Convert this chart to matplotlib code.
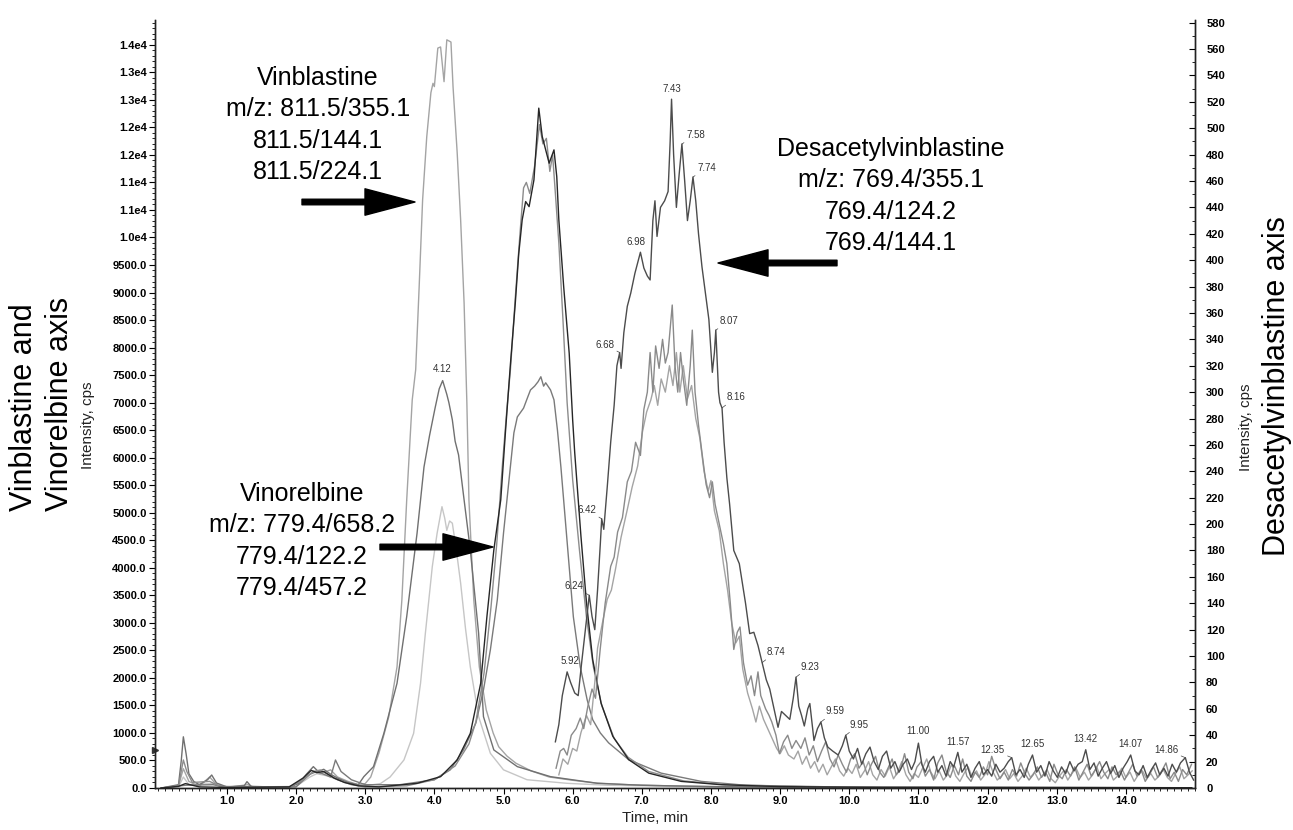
import numpy as np
import matplotlib
matplotlib.use("Agg")
import matplotlib.pyplot as plt
from matplotlib.ticker import MultipleLocator, FixedLocator, FuncFormatter

plt.rcParams['font.family'] = ['Liberation Sans', 'DejaVu Sans']

# ---- Vinblastine transitions (left axis, cps) ----
vbl_a_t = [0.05, 0.3, 0.37, 0.45, 0.6, 0.75, 0.85, 1.0, 1.3, 1.4, 1.9, 2.1, 2.25, 2.35, 2.5, 2.6, 2.75, 2.9, 3.0, 3.08,
           3.2, 3.34, 3.46, 3.53, 3.6, 3.68, 3.73, 3.78, 3.83, 3.89, 3.95, 3.98, 4.0, 4.05, 4.09, 4.14, 4.18, 4.24,
           4.27, 4.33, 4.38, 4.43, 4.47, 4.5, 4.57, 4.65, 4.75, 4.85, 4.93, 5.05, 5.18, 5.4, 5.66, 6.0, 6.34, 6.8,
           7.5, 8.5, 10.0, 12.0, 14.95]
vbl_a_i = [0, 40, 350, 120, 30, 200, 60, 10, 60, 10, 20, 150, 300, 260, 330, 200, 120, 60, 80, 200,
           640, 1290, 2200, 3415, 5230, 7050, 7600, 9100, 10680, 11830, 12630, 12800, 12740, 13440, 13460, 12830,
           13590, 13550, 12740, 11540, 10320, 8810, 7000, 5230, 3415, 2200, 1420, 1000, 750, 580, 450, 310, 200,
           140, 90, 60, 35, 20, 10, 5, 5]

vbl_b_t = [0.05, 0.3, 0.34, 0.37, 0.41, 0.45, 0.52, 0.6, 0.72, 0.78, 0.85, 1.0, 1.25, 1.29, 1.35, 1.9, 2.05, 2.15,
           2.25, 2.32, 2.4, 2.5, 2.6, 2.75, 2.9, 2.98, 3.12, 3.27, 3.46, 3.6, 3.75, 3.85, 3.93, 4.01, 4.07, 4.12,
           4.18, 4.21, 4.26, 4.3, 4.35, 4.43, 4.52, 4.64, 4.71, 4.86, 5.2, 5.68, 6.36, 7.0, 8.0, 10.0, 14.95]
vbl_b_i = [0, 60, 500, 930, 620, 260, 120, 60, 150, 236, 90, 20, 40, 115, 30, 10, 90, 250,
           388, 300, 340, 250, 180, 100, 60, 206, 388, 993, 1902, 3113, 4630, 5830, 6400, 6900, 7250, 7400,
           7150, 7000, 6686, 6300, 6050, 5233, 4324, 2810, 1297, 691, 388, 206, 85, 50, 25, 10, 5]

vbl_c_t = [0.05, 0.3, 0.37, 0.45, 0.8, 1.0, 2.0, 2.2, 2.3, 2.45, 2.6, 2.8, 3.0, 3.22, 3.36, 3.56, 3.7, 3.8, 3.87,
           3.97, 4.04, 4.11, 4.15, 4.18, 4.22, 4.26, 4.32, 4.38, 4.45, 4.52, 4.64, 4.81, 5.0, 5.34, 5.92, 6.5,
           7.5, 9.0, 14.95]
vbl_c_i = [0, 20, 200, 60, 80, 10, 30, 200, 260, 220, 150, 80, 40, 80, 200, 509, 993, 1902, 2810,
           4020, 4630, 5110, 4900, 4680, 4850, 4810, 4300, 3720, 2900, 2200, 1297, 630, 330, 150, 85, 50,
           30, 10, 5]

# ---- Vinorelbine transitions (left axis, cps) ----
vrl_1_t = [0.05, 0.3, 0.4, 0.6, 1.0, 1.9, 2.1, 2.22, 2.3, 2.4, 2.55, 2.7, 2.9, 3.2, 3.75, 4.09, 4.33, 4.52, 4.67,
           4.76, 4.86, 4.96, 5.03, 5.1, 5.17, 5.22, 5.27, 5.32, 5.37, 5.44, 5.51, 5.56, 5.61, 5.66, 5.73, 5.77,
           5.8, 5.87, 5.95, 6.0, 6.03, 6.12, 6.2, 6.29, 6.41, 6.58, 6.81, 7.1, 7.57, 8.15, 9.0, 10.5, 14.95]
vrl_1_i = [0, 30, 80, 20, 10, 20, 180, 320, 280, 300, 180, 100, 40, 20, 85, 206, 509, 993, 1902,
           3113, 4324, 5233, 6500, 7700, 8800, 9700, 10320, 10652, 10560, 11046, 12349, 11833, 11591, 11349,
           11591, 11106, 10320, 9108, 7897, 6686, 6085, 4570, 3365, 2330, 1545, 940, 515, 270, 120, 60, 25,
           10, 5]

vrl_2_t = [0.05, 0.3, 0.37, 0.42, 0.5, 0.75, 0.9, 1.9, 2.1, 2.25, 2.35, 2.45, 2.6, 2.8, 3.0, 3.6, 4.0, 4.3, 4.5,
           4.6, 4.72, 4.82, 4.9, 4.98, 5.05, 5.1, 5.17, 5.24, 5.29, 5.33, 5.38, 5.45, 5.52, 5.57, 5.62, 5.67,
           5.71, 5.75, 5.8, 5.86, 5.92, 6.0, 6.1, 6.2, 6.3, 6.42, 6.6, 6.8, 7.1, 7.6, 8.2, 9.5, 14.95]
vrl_2_i = [0, 40, 509, 300, 100, 120, 30, 10, 150, 300, 327, 250, 150, 60, 20, 40, 150, 400, 800,
           1200, 2100, 3300, 4400, 5800, 6900, 7600, 8900, 10100, 10900, 11000, 10800, 11300, 12050, 11700,
           11800, 11200, 11500, 10800, 9900, 8500, 7000, 5600, 4300, 3100, 2200, 1500, 900, 560, 300, 130, 60,
           20, 5]

vrl_3_t = [0.05, 0.4, 0.8, 1.0, 2.0, 2.2, 2.3, 2.5, 2.57, 2.65, 2.8, 3.0, 3.5, 4.0, 4.23, 4.42, 4.6, 4.71, 4.81,
           4.91, 5.0, 5.08, 5.15, 5.2, 5.29, 5.35, 5.39, 5.45, 5.5, 5.54, 5.58, 5.61, 5.68, 5.73, 5.78, 5.83,
           5.93, 6.01, 6.11, 6.21, 6.29, 6.4, 6.52, 6.81, 7.28, 7.86, 8.5, 10.0, 14.95]
vrl_3_i = [0, 50, 60, 10, 20, 250, 300, 200, 509, 300, 150, 60, 60, 150, 330, 690, 1180, 1780, 2510,
           3415, 4630, 5600, 6450, 6740, 6900, 7100, 7230, 7300, 7380, 7470, 7300, 7360, 7230, 7050, 6500,
           5830, 4320, 3110, 2200, 1600, 1240, 1000, 820, 515, 270, 120, 50, 15, 5]

# ---- Desacetylvinblastine transitions (right axis, cps) ----
des_1_t = [5.75, 5.80, 5.85, 5.92, 5.97, 6.03, 6.08, 6.13, 6.18, 6.24, 6.28, 6.32, 6.36, 6.40, 6.42, 6.45, 6.50,
           6.55, 6.60, 6.64, 6.68, 6.70, 6.74, 6.79, 6.84, 6.90, 6.95, 6.98, 7.03, 7.08, 7.12, 7.16, 7.19, 7.22,
           7.27, 7.33, 7.38, 7.41, 7.43, 7.46, 7.50, 7.54, 7.58, 7.62, 7.66, 7.70, 7.74, 7.78, 7.82, 7.87, 7.92,
           7.97, 8.02, 8.05, 8.07, 8.11, 8.13, 8.16, 8.19, 8.23, 8.27, 8.33, 8.41, 8.50, 8.56, 8.62, 8.68, 8.74,
           8.80, 8.85, 8.92, 8.97, 9.02, 9.08, 9.14, 9.19, 9.23, 9.27, 9.31, 9.35, 9.40, 9.43, 9.49, 9.54, 9.59,
           9.64, 9.69, 9.76, 9.84, 9.90, 9.95, 10.00,
           10.06, 10.12, 10.18, 10.24, 10.30, 10.36, 10.42, 10.48, 10.54, 10.60, 10.66, 10.72, 10.78, 10.84,
           10.90, 10.95, 11.00, 11.05, 11.10, 11.16, 11.22, 11.28, 11.34, 11.40, 11.46, 11.51, 11.57, 11.63,
           11.70, 11.76, 11.82, 11.88, 11.94, 12.00, 12.06, 12.12, 12.18, 12.24, 12.30, 12.35, 12.41, 12.47,
           12.53, 12.59, 12.65, 12.71, 12.77, 12.83, 12.89, 12.95, 13.01, 13.07, 13.13, 13.19, 13.25, 13.31,
           13.37, 13.42, 13.48, 13.54, 13.60, 13.66, 13.72, 13.78, 13.84, 13.90, 13.96, 14.02, 14.07, 14.13,
           14.19, 14.25, 14.31, 14.37, 14.43, 14.49, 14.55, 14.61, 14.67, 14.73, 14.79, 14.86, 14.92, 14.98]
des_1_i = [35, 48, 70, 88, 80, 72, 70, 95, 118, 146, 130, 120, 150, 185, 204, 196, 228,
           262, 290, 320, 330, 318, 345, 365, 375, 390, 400, 406, 394, 388, 385, 430, 445, 418,
           440, 445, 452, 490, 522, 480, 440, 465, 488, 460, 430, 445, 463, 445, 420, 395, 375,
           355, 315, 330, 347, 300, 292, 288, 262, 235, 215, 180, 170, 140, 117, 118, 108, 95,
           82, 75, 58, 46, 58, 55, 52, 68, 84, 62, 55, 47, 60, 64, 36, 45, 50,
           38, 31, 28, 25, 32, 40, 28,
           22, 30, 18, 26, 31, 20, 14, 24, 28, 15, 20, 12, 18, 22,
           14, 20, 34, 18, 12, 20, 24, 12, 17, 9, 20, 16, 27, 12,
           18, 8, 15, 20, 10, 14, 9, 18, 12, 15, 20, 23, 10, 14,
           8, 18, 25, 12, 17, 9, 20, 13, 8, 16, 11, 20, 13, 18,
           20, 29, 14, 19, 9, 15, 20, 11, 17, 8, 15, 20, 25, 13,
           10, 17, 8, 14, 19, 10, 15, 9, 18, 12, 19, 23, 12, 6]

des_2_t = [5.76, 5.82, 5.87, 5.92, 5.98, 6.05, 6.11, 6.16, 6.22, 6.28, 6.33, 6.40, 6.47, 6.55, 6.60, 6.65, 6.72,
           6.79, 6.85, 6.91, 6.98, 7.03, 7.08, 7.12, 7.16, 7.20, 7.25, 7.30, 7.34, 7.38, 7.44, 7.48, 7.52, 7.56,
           7.60, 7.65, 7.70, 7.73, 7.77, 7.82, 7.88, 7.93, 7.98, 8.02, 8.06, 8.12, 8.18, 8.23, 8.28, 8.33, 8.38,
           8.42, 8.47, 8.53, 8.58, 8.63, 8.68, 8.72, 8.79, 8.84, 8.88, 8.94, 8.99, 9.05, 9.11, 9.17, 9.23,
           9.30, 9.36, 9.42, 9.48, 9.54, 9.60, 9.66, 9.72, 9.78, 9.84, 9.90, 9.96, 10.02, 10.08, 10.14, 10.20,
           10.26, 10.32, 10.38, 10.44, 10.50, 10.56, 10.62, 10.68, 10.74, 10.80, 10.86, 10.92, 10.98, 11.04,
           11.10, 11.16, 11.22, 11.28, 11.34, 11.40, 11.46, 11.52, 11.58, 11.64, 11.70, 11.76, 11.82, 11.88,
           11.94, 12.00, 12.06, 12.12, 12.18, 12.24, 12.30, 12.36, 12.42, 12.48, 12.54, 12.60, 12.66, 12.72,
           12.78, 12.84, 12.90, 12.96, 13.02, 13.08, 13.14, 13.20, 13.26, 13.32, 13.38, 13.44, 13.50, 13.56,
           13.62, 13.68, 13.74, 13.80, 13.86, 13.92, 13.98, 14.04, 14.10, 14.16, 14.22, 14.28, 14.34, 14.40,
           14.46, 14.52, 14.58, 14.64, 14.70, 14.76, 14.82, 14.88, 14.95]
des_2_i = [15, 28, 30, 25, 40, 45, 53, 45, 62, 75, 68, 106, 140, 168, 175, 194, 205,
           232, 240, 262, 252, 287, 300, 330, 300, 335, 318, 340, 322, 330, 366, 320, 300, 330,
           310, 290, 320, 347, 300, 275, 250, 230, 220, 232, 215, 200, 185, 170, 140, 105, 118,
           122, 95, 78, 85, 70, 88, 70, 60, 55, 50, 40, 26, 35, 40, 30, 36,
           30, 38, 25, 32, 20, 28, 35, 22, 16, 25, 18, 12, 22, 26, 15, 20,
           10, 18, 24, 12, 8, 15, 22, 10, 14, 26, 12, 7, 16, 20,
           9, 14, 6, 19, 25, 13, 8, 17, 10, 22, 9, 5, 12, 8,
           16, 10, 24, 14, 7, 12, 6, 14, 9, 19, 11, 6, 10, 16,
           8, 12, 5, 18, 10, 7, 14, 9, 16, 6, 12, 18, 9, 14,
           20, 12, 7, 16, 10, 13, 6, 12, 18, 9, 14, 5, 10, 16,
           8, 13, 19, 7, 12, 5, 14, 10, 18]

des_3_t = [5.80, 5.86, 5.93, 6.00, 6.06, 6.12, 6.20, 6.26, 6.32, 6.36, 6.43, 6.50, 6.56, 6.62, 6.70, 6.79, 6.86,
           6.94, 7.01, 7.07, 7.13, 7.18, 7.23, 7.28, 7.34, 7.40, 7.45, 7.50, 7.55, 7.60, 7.66, 7.72, 7.78, 7.84,
           7.90, 7.96, 8.00, 8.05, 8.12, 8.18, 8.24, 8.30, 8.36, 8.41, 8.46, 8.53, 8.60, 8.65, 8.70, 8.76, 8.82,
           8.88, 8.95, 9.00, 9.06, 9.12,
           9.20, 9.26, 9.32, 9.38, 9.44, 9.50, 9.56, 9.62, 9.68, 9.74, 9.80, 9.86, 9.92, 9.98, 10.04, 10.10,
           10.16, 10.22, 10.28, 10.34, 10.40, 10.46, 10.52, 10.58, 10.64, 10.70, 10.76, 10.82, 10.88, 10.94,
           11.00, 11.06, 11.12, 11.18, 11.24, 11.30, 11.36, 11.42, 11.48, 11.54, 11.60, 11.66, 11.72, 11.78,
           11.84, 11.90, 11.96, 12.02, 12.08, 12.14, 12.20, 12.26, 12.32, 12.38, 12.44, 12.50, 12.56, 12.62,
           12.68, 12.74, 12.80, 12.86, 12.92, 12.98, 13.04, 13.10, 13.16, 13.22, 13.28, 13.34, 13.40, 13.46,
           13.52, 13.58, 13.64, 13.70, 13.76, 13.82, 13.88, 13.94, 14.00, 14.06, 14.12, 14.18, 14.24, 14.30,
           14.36, 14.42, 14.48, 14.54, 14.60, 14.66, 14.72, 14.78, 14.84, 14.90, 14.96]
des_3_i = [10, 22, 18, 30, 28, 42, 55, 48, 80, 106, 125, 143, 150, 166, 190, 211, 228,
           244, 270, 285, 294, 305, 290, 310, 300, 320, 305, 330, 300, 320, 295, 305, 280, 265,
           240, 225, 233, 210, 195, 170, 150, 125, 110, 115, 90, 72, 60, 50, 62, 52, 45,
           38, 30, 26, 32, 25,
           22, 28, 18, 24, 15, 20, 12, 18, 10, 16, 22, 13, 9, 15, 11, 18,
           8, 13, 20, 10, 6, 14, 9, 16, 7, 12, 20, 10, 5, 11,
           8, 15, 22, 12, 7, 13, 6, 10, 18, 9, 5, 11, 16, 8,
           13, 6, 10, 20, 12, 6, 9, 14, 7, 11, 5, 9, 15, 8,
           12, 6, 10, 14, 7, 4, 9, 13, 6, 11, 15, 8, 12, 6,
           10, 16, 7, 11, 14, 6, 9, 15, 8, 12, 5, 10, 13, 7,
           11, 6, 9, 14, 8, 5, 11, 16, 7, 10, 13]

# peak labels (retention times) on the desacetylvinblastine / vinblastine traces
peak_labels = ["4.12", "5.92", "6.24", "6.42", "6.68", "6.98", "7.43", "7.58", "7.74", "8.07", "8.16",
               "8.74", "9.23", "9.59", "9.95", "11.00", "11.57", "12.35", "12.65", "13.42", "14.07", "14.86"]

ytick_left = np.arange(0, 14000, 500)
xtick_vals = np.arange(1, 15)

W, H = 1293, 830
fig = plt.figure(figsize=(W / 100, H / 100), dpi=100)


def fp(x, y):
    # pixel position (from top-left) -> figure fraction
    return (x / W, 1 - y / H)


ax = fig.add_axes([155 / W, 1 - 788 / H, 1040 / W, 768 / H])
ax2 = ax.twinx()

# left-axis traces
ax.plot(vbl_c_t, vbl_c_i, color='#c6c6c6', lw=1.0)
ax.plot(vbl_a_t, vbl_a_i, color='#a4a4a4', lw=1.0)
ax.plot(vbl_b_t, vbl_b_i, color='#707070', lw=1.0)
ax.plot(vrl_3_t, vrl_3_i, color='#7a7a7a', lw=1.0)
ax.plot(vrl_2_t, vrl_2_i, color='#8c8c8c', lw=1.0)
ax.plot(vrl_1_t, vrl_1_i, color='#262626', lw=1.0)

# right-axis traces
ax2.plot(des_3_t, des_3_i, color='#a4a4a4', lw=1.0)
ax2.plot(des_2_t, des_2_i, color='#8a8a8a', lw=1.0)
ax2.plot(des_1_t, des_1_i, color='#4c4c4c', lw=1.0)

ax.set_xlim(-0.04, 15.0)
ax.set_ylim(0, 13950)
ax2.set_ylim(0, 582)

# peak label styles: (dx, dy) offset in points, alignment, leader line
label_style = {
    "4.12": (0, 5, 'center', False), "5.92": (2, 4, 'center', False),
    "6.24": (-4, 3, 'right', True), "6.42": (-4, 3, 'right', True),
    "6.68": (-4, 2, 'right', True), "6.98": (-3, 4, 'center', False),
    "7.43": (0, 4, 'center', False), "7.58": (3, 3, 'left', True),
    "7.74": (3, 3, 'left', True), "8.07": (3, 3, 'left', True),
    "8.16": (3, 4, 'left', True), "8.74": (3, 4, 'left', True),
    "9.23": (3, 4, 'left', True), "9.59": (3, 4, 'left', True),
    "9.95": (3, 4, 'left', True), "11.00": (0, 5, 'center', False),
    "11.57": (0, 4, 'center', False), "12.35": (-5, 2, 'right', True),
    "12.65": (0, 4, 'center', False), "13.42": (0, 4, 'center', False),
    "14.07": (0, 4, 'center', False), "14.86": (-5, 2, 'right', True),
}
for lab in peak_labels:
    t = float(lab)
    dx, dy, ha, lead = label_style[lab]
    if lab == "4.12":
        a, y = ax, np.interp(t, vbl_b_t, vbl_b_i)
    else:
        a, y = ax2, np.interp(t, des_1_t, des_1_i)
    props = dict(arrowstyle='-', lw=0.5, color='#444444', shrinkA=0, shrinkB=0) if lead else None
    a.annotate(lab, xy=(t, y), xytext=(dx, dy), textcoords='offset points', ha=ha, va='bottom',
               fontsize=7, color='#333333', arrowprops=props)


# tick formatting
def left_fmt(v, pos):
    if v >= 10000:
        return "%.1fe4" % (np.floor(v / 1000 + 0.5) / 10)
    return "%.1f" % v


ax.yaxis.set_major_locator(FixedLocator(ytick_left))
ax.yaxis.set_minor_locator(MultipleLocator(100))
ax.yaxis.set_major_formatter(FuncFormatter(left_fmt))
ax.xaxis.set_major_locator(FixedLocator(xtick_vals))
ax.xaxis.set_minor_locator(MultipleLocator(0.1))
ax.xaxis.set_major_formatter(FuncFormatter(lambda v, p: "%.1f" % v))
ax2.yaxis.set_major_locator(MultipleLocator(20))
ax2.yaxis.set_minor_locator(MultipleLocator(10))

ax.tick_params(axis='both', which='major', direction='out', length=4, width=0.8, pad=2, labelsize=8)
ax.tick_params(axis='both', which='minor', direction='out', length=2, width=0.6)
ax2.tick_params(axis='y', which='major', direction='in', length=4, width=0.8, pad=8, labelsize=8)
ax2.tick_params(axis='y', which='minor', direction='in', length=2, width=0.6)
for lbl in ax.get_xticklabels() + ax.get_yticklabels() + ax2.get_yticklabels():
    lbl.set_fontweight('bold')

for a in (ax, ax2):
    a.spines['top'].set_visible(False)
    for s in ('left', 'right', 'bottom'):
        a.spines[s].set_color('#222222')
        a.spines[s].set_linewidth(1.0)

# little marker on the left axis
left_marker_level = 690
ax.plot([ax.get_xlim()[0]], [left_marker_level], marker='>', color='#333333', markersize=5, clip_on=False)

# axis titles
fig.text(*fp(42, 404), "Vinblastine and\nVinorelbine axis", rotation=90, ha='center', va='center',
         multialignment='left', fontsize=22, linespacing=1.28)
fig.text(*fp(88, 425), "Intensity, cps", rotation=90, ha='center', va='center', fontsize=11, color='#222222')
fig.text(*fp(1246, 427), "Intensity, cps", rotation=90, ha='center', va='center', fontsize=11, color='#222222')
fig.text(*fp(1277, 386), "Desacetylvinblastine axis", rotation=90, ha='center', va='center', fontsize=22)
fig.text(*fp(655, 818), "Time, min", ha='center', va='center', fontsize=11, color='#222222')

# compound annotations
block_font = dict(ha='center', va='center', multialignment='center', fontsize=18, linespacing=1.38)
fig.text(*fp(318, 125), "Vinblastine\nm/z: 811.5/355.1\n811.5/144.1\n811.5/224.1", **block_font)
fig.text(*fp(302, 541), "Vinorelbine\nm/z: 779.4/658.2\n779.4/122.2\n779.4/457.2", **block_font)
fig.text(*fp(891, 196), "Desacetylvinblastine\nm/z: 769.4/355.1\n769.4/124.2\n769.4/144.1", **block_font)

arrow_style = dict(arrowstyle='simple,head_length=1.8,head_width=0.95,tail_width=0.2', color='black',
                   mutation_scale=20, shrinkA=0, shrinkB=0)
for tail, tip in [((302, 202), (415, 202)), ((380, 547), (493, 547)), ((837, 263), (718, 263))]:
    fig.add_artist(matplotlib.patches.FancyArrowPatch(fp(*tail), fp(*tip), transform=fig.transFigure,
                                                      **arrow_style))

fig.savefig("out.png", dpi=100)
